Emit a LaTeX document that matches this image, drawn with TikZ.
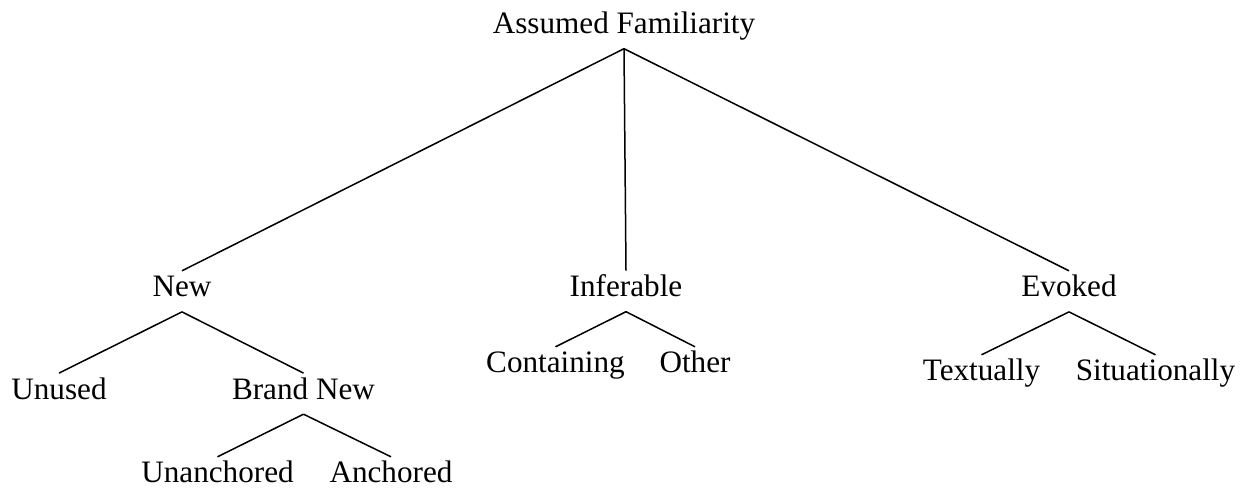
\documentclass[tikz,border=0pt]{standalone}
\usepackage{fontspec}
\setmainfont{Liberation Serif}
\begin{document}
\begin{tikzpicture}[
    x=1bp,y=-1bp,
    term/.style={anchor=base,inner sep=0,text height=25.7bp,text depth=15bp,font=\fontsize{31.3}{36}\selectfont},
    branch/.style={line width=1.5bp}
    ]
    \useasboundingbox (0,0) rectangle (1243,489);

    % top
    \node[term] (fam) at (624,33.5) {Assumed Familiarity};

    % middle level
    \node[term] (new) at (182,296.7) {New};
    \node[term] (inf) at (626,296.5) {Inferable};
    \node[term] (evo) at (1069,296.7) {Evoked};

    % leaves
    \node[term] (unused) at (59,399) {Unused};
    \node[term] (brand) at (303.5,399) {Brand New};
    \node[term] (unanch) at (217.5,482.7) {Unanchored};
    \node[term] (anch) at (391,482.7) {Anchored};
    \node[term] (cont) at (555.5,372.7) {Containing};
    \node[term] (other) at (695,372.7) {Other};
    \node[term] (textual) at (981.5,380.7) {Textually};
    \node[term] (situ) at (1155.5,380.7) {Situationally};

    % branches
    \draw [branch] (fam.south) -- (new.north);
    \draw [branch] (fam.south) -- (inf.north);
    \draw [branch] (fam.south) -- (evo.north);

    \draw [branch] (new.south) -- (unused.north);
    \draw [branch] (new.south) -- (brand.north);
    \draw [branch] (brand.south) -- (unanch.north);
    \draw [branch] (brand.south) -- (anch.north);

    \draw [branch] (inf.south) -- (cont.north);
    \draw [branch] (inf.south) -- (other.north);

    \draw [branch] (evo.south) -- (textual.north);
    \draw [branch] (evo.south) -- (situ.north);
  \end{tikzpicture}
\end{document}
